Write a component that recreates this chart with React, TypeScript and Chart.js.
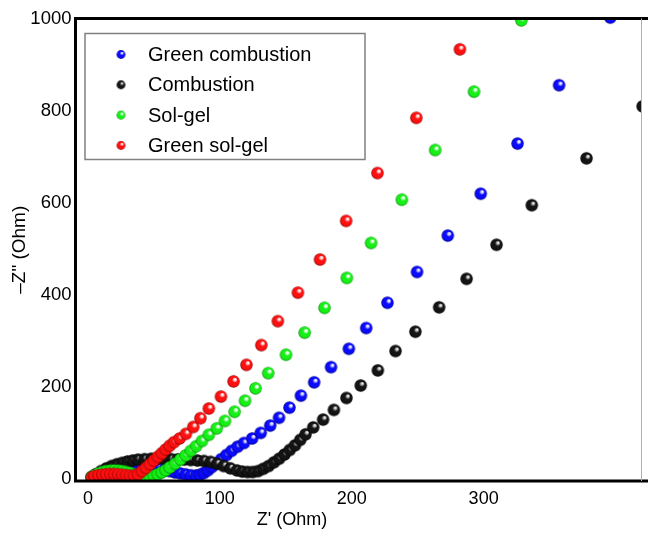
import React, { useEffect, useRef } from 'react';
import { Chart, registerables } from 'chart.js';

Chart.register(...registerables);

// ---- data ----
const seriesNames = ['Green combustion', 'Combustion', 'Sol-gel', 'Green sol-gel'];
const seriesColors = ['#0a0aff', '#141414', '#16f016', '#ff1010'];
const seriesHighlights = ['#c8c8ff', '#b0b0b0', '#e0ffe0', '#ffd0d0'];
const seriesEdges = ['#00007a', '#000000', '#008a00', '#8a0000'];

const greenCombustionX = [3, 6, 10, 14, 18, 22, 26, 30, 34, 38, 42, 46, 50, 54, 58, 62, 66, 70, 74, 78, 82, 85, 88, 91, 94, 97.5, 101, 105, 109, 113.5, 118.3, 124.5, 131, 138.2, 144.9, 152.8, 161.5, 171.5, 184.3, 197.8, 211, 227.1, 249.5, 272.8, 297.8, 325.7, 357.2, 396];
const greenCombustionY = [3, 8, 13, 17, 21, 24, 26, 27, 28, 28, 27, 26, 24, 22, 19, 16, 13, 11, 9, 7, 6.5, 8, 12, 18, 25, 33, 42, 51, 60, 69, 77, 87, 99, 115, 132, 154, 180, 209, 242, 282, 327, 382, 449, 528, 619, 728, 855, 1002];

const combustionX = [3, 6, 10, 14, 18, 22, 26, 30, 34, 38, 43, 48, 53, 58, 63, 68, 73, 78, 83, 88, 93, 98, 103, 108, 113, 117, 121, 125, 129, 133, 137, 141, 145, 149, 153, 157, 161, 165, 170.8, 178.3, 186.5, 196, 206.8, 219.8, 233.2, 248.3, 266.3, 287.1, 309.8, 336.5, 378, 420.5];
const combustionY = [3, 9, 16, 22, 27, 31, 34, 37, 39, 41, 42, 43, 43, 42.5, 42, 41.5, 41, 40, 39, 38, 36, 32, 27, 22, 17.5, 15, 14, 14, 16, 21, 27, 35, 43, 52, 62, 72, 84, 96, 111, 128, 149, 175, 202, 235, 277, 319, 372, 434, 508, 594, 696, 809];

const solGelX = [3, 5, 8, 11, 14, 17, 20, 23, 26, 29, 32, 35, 38, 41, 44, 47, 50, 53, 56, 59, 62, 66, 70, 74, 78, 82, 86.5, 91.7, 97.7, 103.9, 111.2, 119.1, 127.1, 136.7, 150.2, 164.3, 179.4, 196.3, 214.7, 238, 263.3, 292.7, 328.6];
const solGelY = [3, 7, 11, 14, 16, 17, 17.5, 17, 16, 14, 12, 9, 7, 5, 4, 4, 6, 9, 13, 18, 24, 32, 41, 50, 60, 70, 81.5, 95, 109, 125, 145, 169, 196, 229, 269, 317, 371, 436, 512, 606, 714, 841, 996];

const greenSolGelX = [3, 5, 8, 11, 14, 17, 20, 23, 26, 29, 32, 35, 38, 41, 44, 47, 50, 53, 56, 59, 62, 65.3, 69.5, 74.3, 79.9, 85.3, 91.7, 100.9, 110.4, 120.2, 131.5, 144, 159.2, 176, 195.8, 219.5, 249, 282];
const greenSolGelY = [2, 5, 7, 8, 9, 9.5, 9.5, 9, 8, 7, 6, 6, 9, 16, 23, 31, 39, 47, 55, 63, 71, 79, 87, 97, 112, 131, 152, 178, 211, 247, 290, 342, 404, 476, 560, 664, 784, 933];

const seriesX = [greenCombustionX, combustionX, solGelX, greenSolGelX];
const seriesY = [greenCombustionY, combustionY, solGelY, greenSolGelY];

const xTickValues = [0, 100, 200, 300];
const yTickValues = [0, 200, 400, 600, 800, 1000];
const xTitle = "Z' (Ohm)";
const yTitle = '\u2013Z" (Ohm)';

const FONT = "'Liberation Sans', Arial, Helvetica, sans-serif";

function makeSphere(color: string, hi: string, edge: string, r: number): HTMLCanvasElement {
  const size = Math.ceil(r * 2 + 2);
  const c = document.createElement('canvas');
  c.width = size;
  c.height = size;
  const g = c.getContext('2d')!;
  const cx = size / 2;
  const cy = size / 2;
  const grad = g.createRadialGradient(cx + r * 0.3, cy - r * 0.38, r * 0.05, cx, cy, r);
  grad.addColorStop(0, '#ffffff');
  grad.addColorStop(0.18, hi);
  grad.addColorStop(0.4, color);
  grad.addColorStop(0.82, color);
  grad.addColorStop(1, edge);
  g.fillStyle = grad;
  g.beginPath();
  g.arc(cx, cy, r, 0, Math.PI * 2);
  g.fill();
  return c;
}

export default function App() {
  const ref = useRef<HTMLCanvasElement | null>(null);

  useEffect(() => {
    const canvas = ref.current;
    if (!canvas) return;
    const spheres = seriesColors.map((c, i) => makeSphere(c, seriesHighlights[i], seriesEdges[i], 6.2));
    const legendSpheres = seriesColors.map((c, i) => makeSphere(c, seriesHighlights[i], seriesEdges[i], 4.4));

    const framePlugin = {
      id: 'frame',
      afterDatasetsDraw(chart: any) {
        const ctx = chart.ctx as CanvasRenderingContext2D;
        const a = chart.chartArea;
        ctx.save();
        // frame
        ctx.strokeStyle = '#000';
        ctx.lineWidth = 3;
        ctx.beginPath();
        ctx.moveTo(a.left, a.bottom + 1.5);
        ctx.lineTo(a.left, a.top - 1.5);
        ctx.moveTo(a.left - 1.5, a.top);
        ctx.lineTo(648, a.top);
        ctx.moveTo(a.left - 1.5, a.bottom);
        ctx.lineTo(648, a.bottom);
        ctx.stroke();
        ctx.strokeStyle = '#b0b0b0';
        ctx.lineWidth = 1;
        ctx.beginPath();
        ctx.moveTo(a.right + 0.5, a.top);
        ctx.lineTo(a.right + 0.5, a.bottom);
        ctx.stroke();

        // legend
        const lx = 85, ly = 33.5, lw = 280, lh = 126;
        ctx.fillStyle = '#fff';
        ctx.fillRect(lx, ly, lw, lh);
        ctx.strokeStyle = '#808080';
        ctx.lineWidth = 1.5;
        ctx.strokeRect(lx, ly, lw, lh);
        ctx.font = `20px ${FONT}`;
        ctx.fillStyle = '#000';
        ctx.textBaseline = 'middle';
        ctx.textAlign = 'left';
        seriesNames.forEach((name, i) => {
          const y = 54.5 + i * 30.3;
          const s = legendSpheres[i];
          ctx.drawImage(s, 121 - s.width / 2, y - s.height / 2);
          ctx.fillText(name, 148, y + 1);
        });

        // axis titles
        ctx.font = `18px ${FONT}`;
        ctx.textAlign = 'center';
        ctx.textBaseline = 'middle';
        ctx.fillText(xTitle, 292, 520);
        ctx.save();
        ctx.translate(20, (a.top + a.bottom) / 2);
        ctx.rotate(-Math.PI / 2);
        ctx.font = `19px ${FONT}`;
        ctx.fillText(yTitle, 0, 0);
        ctx.restore();
        ctx.restore();
      },
    };

    const chart = new Chart(canvas, {
      type: 'scatter',
      data: {
        datasets: seriesNames.map((name, i) => ({
          label: name,
          data: seriesX[i].map((x, j) => ({ x, y: seriesY[i][j] })),
          pointStyle: spheres[i] as any,
          pointRadius: 6,
          showLine: false,
          clip: 0 as any,
          order: 4 - i,
          backgroundColor: seriesColors[i],
          borderColor: seriesColors[i],
        })),
      },
      options: {
        animation: false,
        responsive: false,
        events: [],
        layout: { padding: { top: 18.5, right: 1, left: 0, bottom: 0 } },
        plugins: { legend: { display: false }, tooltip: { enabled: false } },
        scales: {
          x: {
            type: 'linear',
            min: -9.4,
            max: 419.3,
            grid: { display: false, drawTicks: false },
            border: { display: false },
            ticks: {
              font: { family: FONT, size: 18 },
              color: '#000',
              padding: 7,
              maxRotation: 0,
              callback: (v: any) => String(v),
            },
            afterBuildTicks: (s: any) => {
              s.ticks = xTickValues.map((v) => ({ value: v }));
            },
            afterFit: (s: any) => {
              s.height = 61;
            },
          },
          y: {
            type: 'linear',
            min: -5.5,
            max: 1000,
            grid: { display: false, drawTicks: false },
            border: { display: false },
            ticks: {
              font: { family: FONT, size: 18.5 },
              color: '#000',
              padding: 4,
              callback: (v: any) => String(v),
            },
            afterBuildTicks: (s: any) => {
              s.ticks = yTickValues.map((v) => ({ value: v }));
            },
            afterFit: (s: any) => {
              s.width = 75.5;
            },
          },
        },
      } as any,
      plugins: [framePlugin],
    });
    return () => chart.destroy();
  }, []);

  return (
    <div style={{ position: 'fixed', left: 0, top: 0, width: 648, height: 542, background: '#fff' }}>
      <canvas ref={ref} width={648} height={542} style={{ display: 'block' }} />
    </div>
  );
}
